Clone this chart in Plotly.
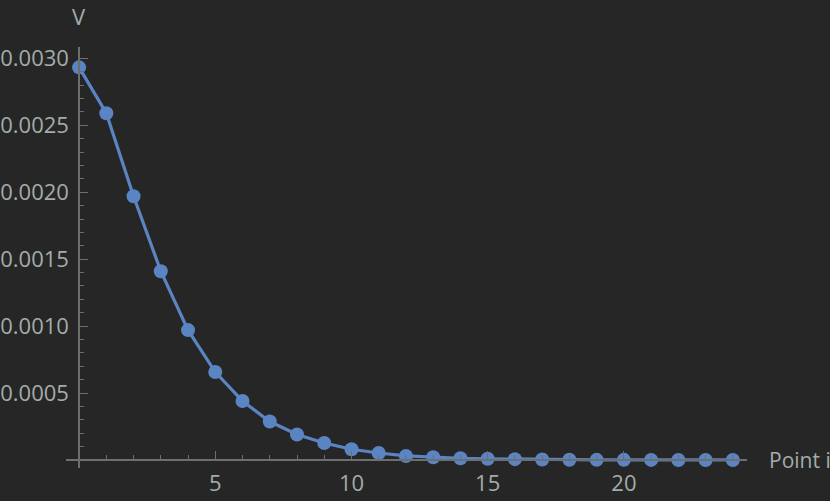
import plotly.graph_objects as go

# data
point_i = list(range(25))
v_values = [
    0.002933, 0.002590, 0.001970, 0.001410, 0.000970, 0.000657, 0.000440,
    0.000287, 0.000190, 0.000127, 0.000080, 0.000052, 0.000030, 0.000020,
    0.000013, 0.000009, 0.000006, 0.000004, 0.000002, 0.000001, 0.000001,
    0.0000005, 0.0000003, 0.0000002, 0.0000001,
]
x_ticks = [5, 10, 15, 20]
y_ticks = [0.0005, 0.0010, 0.0015, 0.0020, 0.0025, 0.0030]
y_tick_text = ["0.0005", "0.0010", "0.0015", "0.0020", "0.0025", "0.0030"]

BG = "#262626"
AXIS = "#6c6f6e"
TEXT = "#a3acaa"
LINE = "#5b84c3"
FONT = "Open Sans"

x_range = [-0.48, 24.52]
y_range = [-0.00006, 0.003085]

# axes cross at the origin, like the reference
x_pos = (0 - y_range[0]) / (y_range[1] - y_range[0])
y_pos = (0 - x_range[0]) / (x_range[1] - x_range[0])

fig = go.Figure(go.Scatter(
    x=point_i,
    y=v_values,
    mode="lines+markers",
    line=dict(color=LINE, width=3.2),
    marker=dict(color=LINE, size=14),
    cliponaxis=False,
))

fig.update_layout(
    width=830,
    height=501,
    paper_bgcolor=BG,
    plot_bgcolor=BG,
    showlegend=False,
    margin=dict(l=66, r=83, t=47, b=33),
    font=dict(family=FONT, size=22, color=TEXT),
    xaxis=dict(
        range=x_range,
        anchor="free",
        position=x_pos,
        automargin=False,
        showgrid=False,
        zeroline=False,
        showline=True,
        linecolor=AXIS,
        linewidth=1.5,
        ticks="inside",
        ticklen=8,
        tickwidth=1,
        tickcolor=AXIS,
        tickvals=x_ticks,
        ticklabelstandoff=4,
        minor=dict(dtick=1, ticks="inside", ticklen=4, tickcolor=AXIS, showgrid=False),
    ),
    yaxis=dict(
        range=y_range,
        anchor="free",
        position=y_pos,
        automargin=False,
        showgrid=False,
        zeroline=False,
        showline=True,
        linecolor=AXIS,
        linewidth=1.5,
        ticks="inside",
        ticklen=8,
        tickwidth=1,
        tickcolor=AXIS,
        tickvals=y_ticks,
        ticktext=y_tick_text,
        ticklabelstandoff=5,
        minor=dict(dtick=0.0001, tick0=0, ticks="inside", ticklen=4, tickcolor=AXIS, showgrid=False),
    ),
    annotations=[
        dict(text="V", x=0, y=1, xref="x", yref="paper", yshift=31,
             showarrow=False, xanchor="center", yanchor="middle",
             font=dict(family=FONT, size=22, color=TEXT)),
        dict(text="Point i", x=1, y=0, xref="paper", yref="y", xshift=20,
             showarrow=False, xanchor="left", yanchor="middle",
             font=dict(family=FONT, size=21, color=TEXT)),
    ],
)

fig.write_html("out.html", config={"displayModeBar": False},
               post_script="document.body.style.margin='0';")
